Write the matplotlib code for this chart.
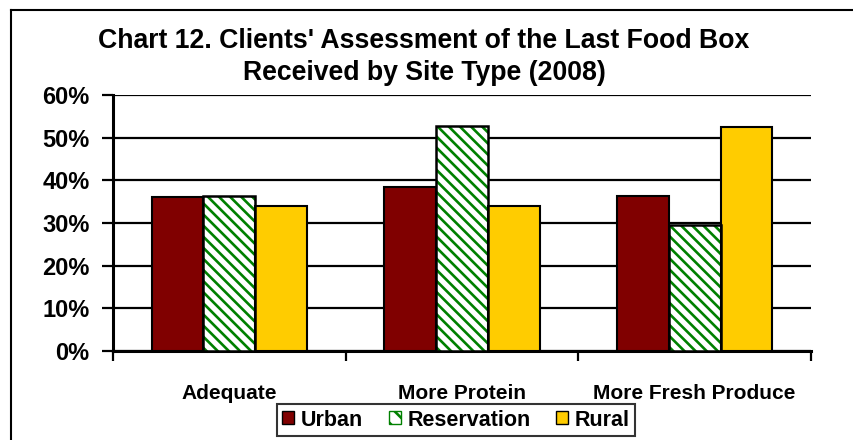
import matplotlib
matplotlib.use("Agg")
import matplotlib.pyplot as plt
from matplotlib.lines import Line2D
from matplotlib.patches import Patch
import numpy as np

categories = ["Adequate", "More Protein", "More Fresh Produce"]
series_names = ["Urban", "Reservation", "Rural"]
urban = [0.360, 0.384, 0.364]
reservation = [0.364, 0.528, 0.296]
rural = [0.341, 0.341, 0.524]
yticks = [0.0, 0.1, 0.2, 0.3, 0.4, 0.5, 0.6]
ytick_labels = ["0%", "10%", "20%", "30%", "40%", "50%", "60%"]
title = "Chart 12. Clients' Assessment of the Last Food Box\nReceived by Site Type (2008)"

plt.rcParams['font.family'] = ['Liberation Sans', 'DejaVu Sans']
plt.rcParams['font.weight'] = 'bold'
plt.rcParams['hatch.linewidth'] = 1.9

GREEN = '#008000'
HATCH = '\\\\\\'
fig = plt.figure(figsize=(8.54, 4.40), dpi=100)
ax = fig.add_axes([113/854, 1-351/440, (811-113)/854, (351-95)/440])

x = np.arange(len(categories))
w = 1/4.5
ax.bar(x - w, urban, w, color='#800000', edgecolor='black', linewidth=1.5, zorder=3)
ax.bar(x, reservation, w, color='white', edgecolor=GREEN, hatch=HATCH, linewidth=0, zorder=3)
ax.bar(x, reservation, w, fill=False, edgecolor='black', linewidth=1.8, zorder=4)
ax.bar(x + w, rural, w, color='#FFCC00', edgecolor='black', linewidth=1.5, zorder=3)

ax.set_xlim(-0.5, 2.5)
ax.set_ylim(0, 0.6)
ax.set_yticks(yticks)
ax.set_yticklabels(ytick_labels, fontsize=17, fontweight='bold')
ax.yaxis.grid(True, color='black', linewidth=1.6, zorder=0)
ax.set_axisbelow(True)

ax.set_xticks([-0.5, 0.5, 1.5, 2.5])
ax.set_xticklabels([])
ax.set_xticks(x, minor=True)
ax.set_xticklabels(categories, minor=True, fontsize=15, fontweight='bold')
ax.tick_params(axis='x', which='minor', length=0, pad=24)
ax.tick_params(axis='x', which='major', length=7, width=1.6, direction='out')
ax.tick_params(axis='y', length=8, width=1.6, pad=9)

for s in ['top', 'right']:
    ax.spines[s].set_visible(False)
ax.spines['left'].set_linewidth(2.2)
ax.spines['bottom'].set_linewidth(2.2)

fig.text(424/854, 1-57/440, title, ha='center', va='center', fontsize=19.2,
         fontweight='bold', linespacing=1.3)

handles = [Patch(facecolor='#800000', edgecolor='black'),
           Patch(facecolor='white', edgecolor=GREEN, hatch='\\\\', linewidth=1),
           Patch(facecolor='#FFCC00', edgecolor='black')]
leg = fig.legend(handles, series_names, loc='center', bbox_to_anchor=(456/854, 1-420/440),
                 ncol=3, fontsize=15.5, frameon=True, fancybox=False, edgecolor='black',
                 handlelength=0.55, handleheight=0.55, handletextpad=0.3, columnspacing=1.2,
                 borderpad=0.25, borderaxespad=0)
leg.get_frame().set_linewidth(1.5)
for t in leg.get_texts():
    t.set_fontweight('bold')

fig.add_artist(Line2D([11/854, 11/854], [0, 1-10/440], color='black', linewidth=1.5, transform=fig.transFigure))
fig.add_artist(Line2D([11/854, 1], [1-10/440, 1-10/440], color='black', linewidth=1.5, transform=fig.transFigure))

fig.savefig("out.png", dpi=100)
